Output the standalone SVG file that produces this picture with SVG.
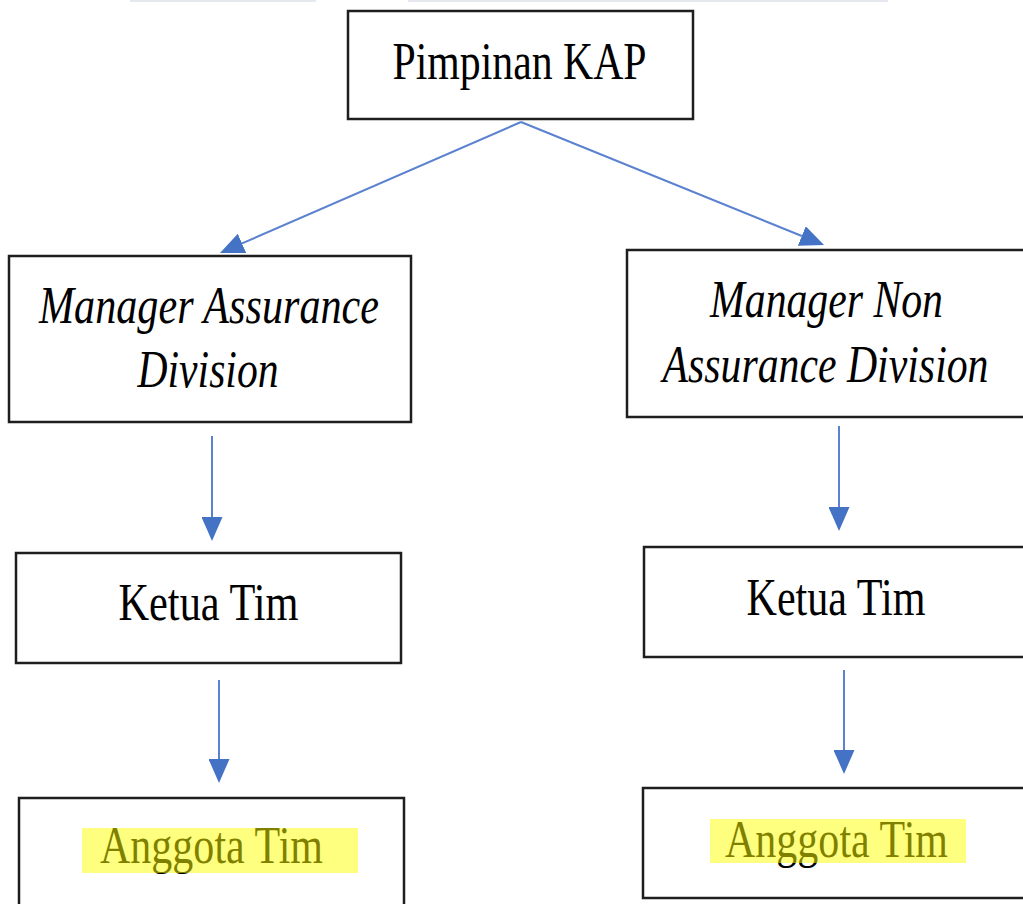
<svg xmlns="http://www.w3.org/2000/svg" width="1023" height="904" viewBox="0 0 1023 904">
<style>
.box{fill:#fff;stroke:#1e1e1e;stroke-width:2.5}
.t{font-family:"Liberation Serif","Times New Roman",serif;font-size:52px;fill:#000;text-anchor:middle}
.i{font-style:italic}
.hl{fill:#ffff00;opacity:0.5}
.conn{fill:none;stroke:#5b82d0;stroke-width:2}
.bar{fill:#e5e9ef}
</style>
<defs>
<marker id="ah" markerUnits="userSpaceOnUse" markerWidth="24" markerHeight="21" refX="0" refY="10.5" orient="auto" viewBox="0 0 24 21">
<path d="M0,0 L24,10.5 L0,21 z" fill="#4472c4"/>
</marker>
</defs>
<rect width="1023" height="904" fill="#fff"/>
<rect class="bar" x="130" y="0" width="186" height="2"/>
<rect class="bar" x="408" y="0" width="480" height="2"/>

<g id="connectors">
<path class="conn" d="M521,122 L242,243.4" marker-end="url(#ah)"/>
<path class="conn" d="M521,122 L801.8,236" marker-end="url(#ah)"/>
<path class="conn" d="M212,436 L212,517" marker-end="url(#ah)"/>
<path class="conn" d="M219,680 L219,759" marker-end="url(#ah)"/>
<path class="conn" d="M839,426 L839,507" marker-end="url(#ah)"/>
<path class="conn" d="M844,670 L844,750" marker-end="url(#ah)"/>
</g>

<g id="pimpinan">
<rect class="box" x="348" y="11" width="345" height="108"/>
<text class="t" x="519.5" y="79" textLength="254" lengthAdjust="spacingAndGlyphs">Pimpinan KAP</text>
</g>

<g id="manager-assurance">
<rect class="box" x="9" y="256" width="402" height="166"/>
<text class="t i" x="209" y="323" textLength="340" lengthAdjust="spacingAndGlyphs">Manager Assurance</text>
<text class="t i" x="208" y="387" textLength="141" lengthAdjust="spacingAndGlyphs">Division</text>
</g>

<g id="manager-non-assurance">
<rect class="box" x="627" y="250" width="410" height="167"/>
<text class="t i" x="826.5" y="317" textLength="233" lengthAdjust="spacingAndGlyphs">Manager Non</text>
<text class="t i" x="825.5" y="382" textLength="326" lengthAdjust="spacingAndGlyphs">Assurance Division</text>
</g>

<g id="ketua-tim-left">
<rect class="box" x="16" y="553" width="385" height="110"/>
<text class="t" x="208.5" y="620" textLength="180" lengthAdjust="spacingAndGlyphs">Ketua Tim</text>
</g>

<g id="ketua-tim-right">
<rect class="box" x="644" y="547" width="393" height="110"/>
<text class="t" x="836" y="615" textLength="179" lengthAdjust="spacingAndGlyphs">Ketua Tim</text>
</g>

<g id="anggota-tim-left">
<rect class="box" x="19" y="798" width="385" height="120"/>
<text class="t" x="211.5" y="863" textLength="223" lengthAdjust="spacingAndGlyphs">Anggota Tim</text>
<rect class="hl" x="82" y="828" width="276" height="45"/>
</g>

<g id="anggota-tim-right">
<rect class="box" x="643" y="788" width="394" height="110"/>
<text class="t" x="836.5" y="857" textLength="223" lengthAdjust="spacingAndGlyphs">Anggota Tim</text>
<rect class="hl" x="710" y="819" width="256" height="44"/>
</g>
</svg>
